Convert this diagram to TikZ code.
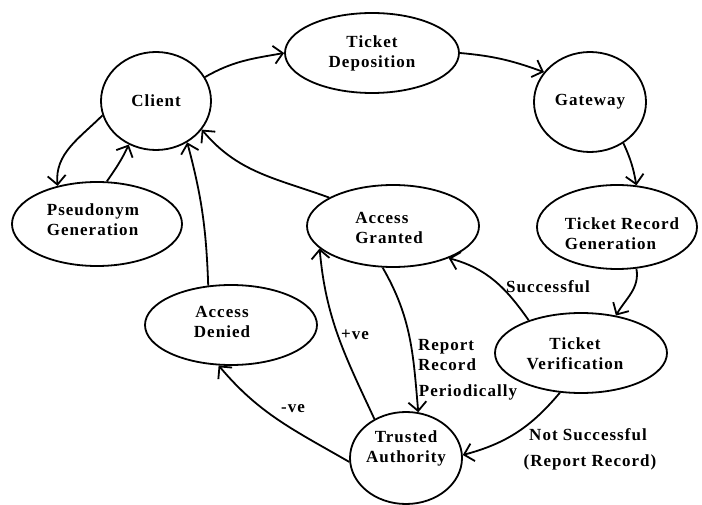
\documentclass[tikz,border=0pt]{standalone}
\usepackage{fontspec}
\setmainfont{Liberation Serif}[LetterSpace=6]
\usetikzlibrary{arrows.meta,shapes.geometric}
\begin{document}
\begin{tikzpicture}[x=1pt,y=1pt,
  st/.style={draw, ellipse, line width=1.8pt, inner sep=0pt, align=center,
    font=\fontsize{17}{20}\selectfont\bfseries},
  lb/.style={font=\fontsize{17}{20}\selectfont\bfseries, align=center, inner sep=0pt},
  ar/.style={-{Straight Barb[length=9pt,width=18pt]}, line width=1.8pt},
]
\useasboundingbox (0,0) rectangle (702,504);
% states
\node[st, minimum width=110, minimum height=98] (client) at (156,403) {Client};
\node[st, minimum width=174, minimum height=80] (td) at (372,451) {Ticket\\Deposition};
\node[st, minimum width=112, minimum height=100] (gw) at (590,402) {Gateway};
\node[st, minimum width=160, minimum height=84] (trg) at (617,277) {};
\node[lb, align=left] (trgt) at (622,270) {Ticket Record\\Generation};
\node[st, minimum width=170, minimum height=84] (pg) at (97,280) {};
\node[lb, align=left] (pgt) at (93,284) {Pseudonym\\Generation};
\node[st, minimum width=172, minimum height=82] (ag) at (393,278) {};
\node[lb, align=left] (agt) at (389,276) {Access\\Granted};
\node[st, minimum width=172, minimum height=80] (ad) at (231,179) {};
\node[lb] (adt) at (222,182) {Access\\Denied};
\node[st, minimum width=172, minimum height=80] (tv) at (581,151) {};
\node[lb] (tvt) at (575,150) {Ticket\\Verification};
\node[st, minimum width=112, minimum height=92] (ta) at (406,46) {};
\node[lb] (tat) at (406,56) {Trusted\\Authority};
% connectors
\draw[ar] (client.26) to[out=30,in=190] (td.180);
\draw[ar] (td.0) to[out=-5,in=160] (gw.147);
\draw[ar] (gw.-51) to[out=-65,in=100] (trg.65);
\draw[ar] (trg.-65) to[out=-80,in=60] (tv.47);
\draw[ar] (tv.148) to[out=125,in=-15] (ag.-30);
\node[lb] (lsucc) at (548,217) {Successful};
\draw[ar] (tv.-118) to[out=-130,in=15] (ta.3);
\node[lb] (lns) at (588,69) {Not Successful};
\node[lb] (lrr) at (590,42) {(Report Record)};
\draw[ar] (ag.-104) to[out=-60,in=95] (ta.75);
\node[lb, align=left] (lrep) at (447,149) {Report\\Record};
\node[lb] (lper) at (468,112) {Periodically};
\draw[ar] (ta.129) to[out=115,in=-85] (ag.-163);
\node[lb] (lpos) at (355,169) {+ve};
\draw[ar] (ta.184) to[out=150,in=-50] (ad.-107);
\node[lb] (lneg) at (293,95) {-ve};
\draw[ar] (ad.120) to[out=92,in=-75] (client.-53);
\draw[ar] (ag.156) to[out=160,in=-50] (client.-32);
\draw[ar] (client.195) to[out=-135,in=95] (pg.136);
\draw[ar] (pg.77) to[out=55,in=-115] (client.-122);
\end{tikzpicture}
\end{document}
